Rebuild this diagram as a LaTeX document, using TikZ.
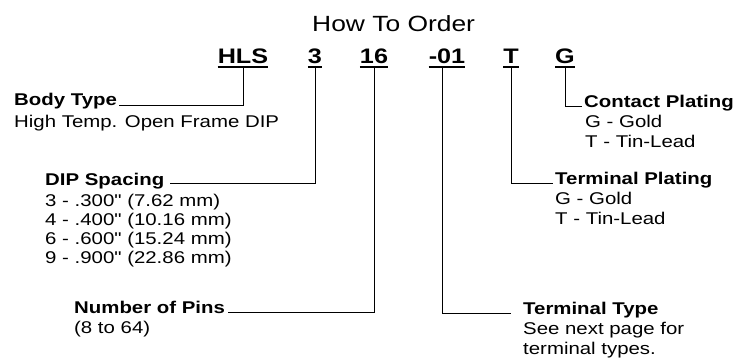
\documentclass[tikz,border=0pt]{standalone}
\usepackage{fontspec}
\setmainfont{Liberation Sans}
\newfontfamily\stretchfont[FakeStretch=1.2]{Liberation Sans}
\begin{document}
\begin{tikzpicture}[x=1pt,y=-1pt,
  titletext/.style={font=\stretchfont\fontsize{22}{26}\selectfont, inner sep=0, anchor=base west},
  codetext/.style={font=\stretchfont\bfseries\fontsize{21}{24}\selectfont, inner sep=0, anchor=base, text depth=4pt},
  headtext/.style={font=\stretchfont\bfseries\fontsize{17}{20}\selectfont, inner sep=0, anchor=base west},
  plaintext/.style={font=\stretchfont\fontsize{17}{20}\selectfont, inner sep=0, anchor=base west},
  underl/.style={line width=1.6pt},
  conn/.style={line width=0.9pt}]
\useasboundingbox (0,0) rectangle (751,360);

\node[titletext] (title) at (312,31) {How To Order};

\node[codetext] (hls) at (243,63) {HLS};
\node[codetext] (c3) at (315,63) {3};
\node[codetext] (c16) at (374,63) {16};
\node[codetext] (c01) at (447,63) {-01};
\node[codetext] (cT) at (511,63) {T};
\node[codetext] (cG) at (565,63) {G};
\foreach \n in {hls,c3,c16,c01,cT,cG}
  \draw[underl] (\n.south west) -- (\n.south east);

% left side
\node[headtext] (body) at (14,105) {Body Type};
\node[plaintext] (bodyd) at (14,127) {High Temp. Open Frame DIP};

\node[headtext] (dip) at (45,185) {DIP Spacing};
\node[plaintext] (dip1) at (45,206) {3 - .300" (7.62 mm)};
\node[plaintext] (dip2) at (45,225) {4 - .400" (10.16 mm)};
\node[plaintext] (dip3) at (45,244) {6 - .600" (15.24 mm)};
\node[plaintext] (dip4) at (45,263) {9 - .900" (22.86 mm)};

\node[headtext] (pins) at (74,313) {Number of Pins};
\node[plaintext] (pinsd) at (74,333) {(8 to 64)};

% right side
\node[headtext] (cont) at (584,107) {Contact Plating};
\node[plaintext] (cont1) at (585,127) {G - Gold};
\node[plaintext] (cont2) at (585,147) {T - Tin-Lead};

\node[headtext] (tplat) at (555,184) {Terminal Plating};
\node[plaintext] (tplat1) at (555,204) {G - Gold};
\node[plaintext] (tplat2) at (555,224) {T - Tin-Lead};

\node[headtext] (ttype) at (523,314) {Terminal Type};
\node[plaintext] (ttype1) at (523,334) {See next page for};
\node[plaintext] (ttype2) at (523,354) {terminal types.};

% connectors
\draw[conn] (hls.south) |- ([xshift=2pt]body.base east);
\draw[conn] (c3.south) |- ([xshift=6pt,yshift=2pt]dip.base east);
\draw[conn] (c16.south) |- ([xshift=3pt,yshift=1pt]pins.base east);
\draw[conn] ([xshift=-5pt]c01.south) |- ([xshift=-12pt,yshift=1pt]ttype.base west);
\draw[conn] (cT.south) |- ([xshift=-2pt,yshift=1pt]tplat.base west);
\draw[conn] (cG.south) |- ([xshift=-2pt,yshift=1pt]cont.base west);
\end{tikzpicture}
\end{document}
